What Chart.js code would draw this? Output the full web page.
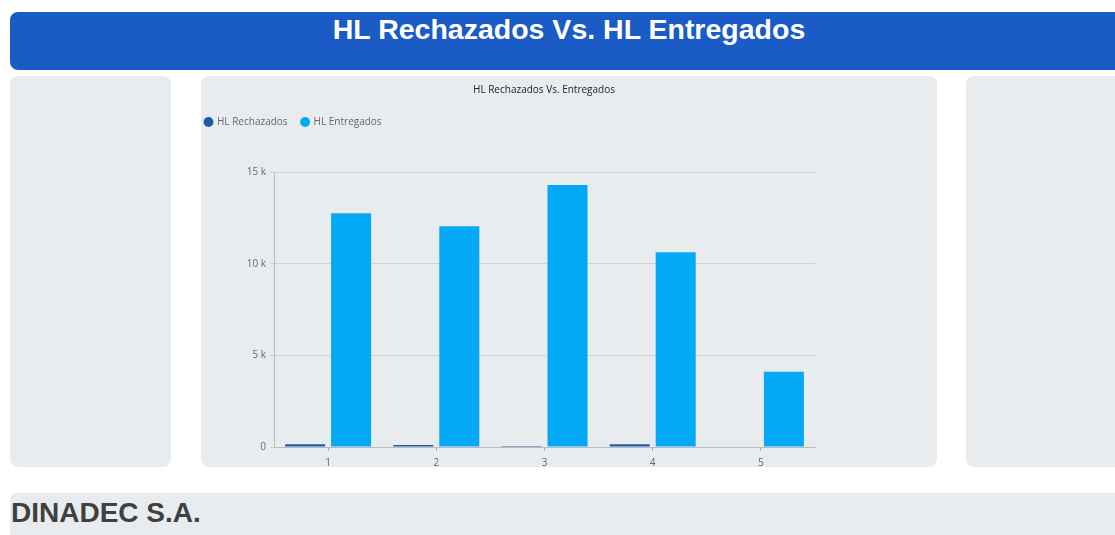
<!DOCTYPE html>
<html>
<head>
<meta charset="utf-8">
<script src="https://cdn.jsdelivr.net/npm/chart.js@4/dist/chart.umd.min.js"></script>
<style>
  html, body { margin: 0; padding: 0; background: #fff; width: 1115px; height: 535px; overflow: hidden; }
  body { position: relative; font-family: "Liberation Sans", Arial, sans-serif; }
  .header {
    position: absolute; left: 10px; top: 12px; width: 1120px; height: 58px;
    background: #1a5bc6; border-radius: 8px; color: #fff;
    font-weight: bold; font-size: 28.5px; line-height: 34px;
  }
  .header span { position: absolute; left: 0; width: 1118px; text-align: center; top: 0; }
  .panel { position: absolute; top: 76px; height: 391px; background: #e9ecee; border-radius: 8px; }
  #left { left: 10px; width: 161px; }
  #center { left: 201px; width: 736px; }
  #right { left: 966px; width: 160px; }
  .footer {
    position: absolute; left: 10px; top: 493px; width: 1120px; height: 50px;
    background: #e9ecee; border-radius: 6px;
    color: #404040; font-weight: bold; font-size: 28px;
  }
  .footer span { position: absolute; left: 1px; top: 4px; }
</style>
</head>
<body>
<div class="header"><span>HL Rechazados Vs. HL Entregados</span></div>
<div class="panel" id="left"></div>
<div class="panel" id="center"><canvas id="hlChart" width="736" height="391"></canvas></div>
<div class="panel" id="right"></div>
<div class="footer"><span>DINADEC S.A.</span></div>

<script>
// periodos y volúmenes (HL)
const periods = ['1', '2', '3', '4', '5'];
const hlRechazados = [150, 110, 60, 150, -60];
const hlEntregados = [12750, 12040, 14290, 10620, 4100];
const yTicks = [0, 5000, 10000, 15000];

const FONT = '"Open Sans", "Noto Sans", sans-serif';

// ejes vacíos solo para reservar espacio alrededor del gráfico
const spacer = (size) => ({
  display: true,
  grid: { display: false },
  border: { display: false },
  ticks: { display: false },
  afterFit: s => { if (s.isHorizontal()) s.height = size; else s.width = size; }
});

new Chart(document.getElementById('hlChart'), {
  type: 'bar',
  data: {
    labels: periods,
    datasets: [
      { label: 'HL Rechazados', data: hlRechazados, backgroundColor: '#1d5aa8', barPercentage: 0.87, categoryPercentage: 0.85 },
      { label: 'HL Entregados', data: hlEntregados, backgroundColor: '#03a9f4', barPercentage: 0.87, categoryPercentage: 0.85 }
    ]
  },
  options: {
    responsive: false,
    animation: false,
    layout: { padding: { left: -10, right: 40, top: 0, bottom: -8 } },
    plugins: {
      title: {
        display: true,
        text: 'HL Rechazados Vs. Entregados',
        color: '#222',
        font: { family: FONT, size: 10, weight: 'normal' },
        padding: { top: 8, bottom: 7 }
      },
      legend: {
        position: 'top',
        align: 'start',
        labels: {
          usePointStyle: true,
          pointStyle: 'circle',
          boxWidth: 7,
          boxHeight: 7,
          padding: 14,
          color: '#666',
          font: { family: FONT, size: 10 }
        }
      },
      tooltip: { enabled: false }
    },
    scales: {
      x: {
        grid: { display: true, drawOnChartArea: false, offset: false, tickLength: 4, color: '#aaa' },
        border: { color: '#bbb' },
        ticks: { color: '#666', font: { family: FONT, size: 10 }, padding: 6 }
      },
      y: {
        min: 0,
        max: 15000,
        afterBuildTicks: s => { s.ticks = yTicks.map(v => ({ value: v })); },
        afterFit: s => { s.width = 83; },
        grid: { color: '#cfd2d4', tickLength: 4 },
        border: { color: '#bbb' },
        ticks: {
          color: '#666',
          font: { family: FONT, size: 10 },
          padding: 4,
          callback: v => v === 0 ? '0' : (v / 1000) + ' k'
        }
      },
      xTop: Object.assign({ type: 'category', position: 'top' }, spacer(35)),
      yRight: Object.assign({ type: 'linear', position: 'right' }, spacer(82))
    }
  }
});
</script>
</body>
</html>
